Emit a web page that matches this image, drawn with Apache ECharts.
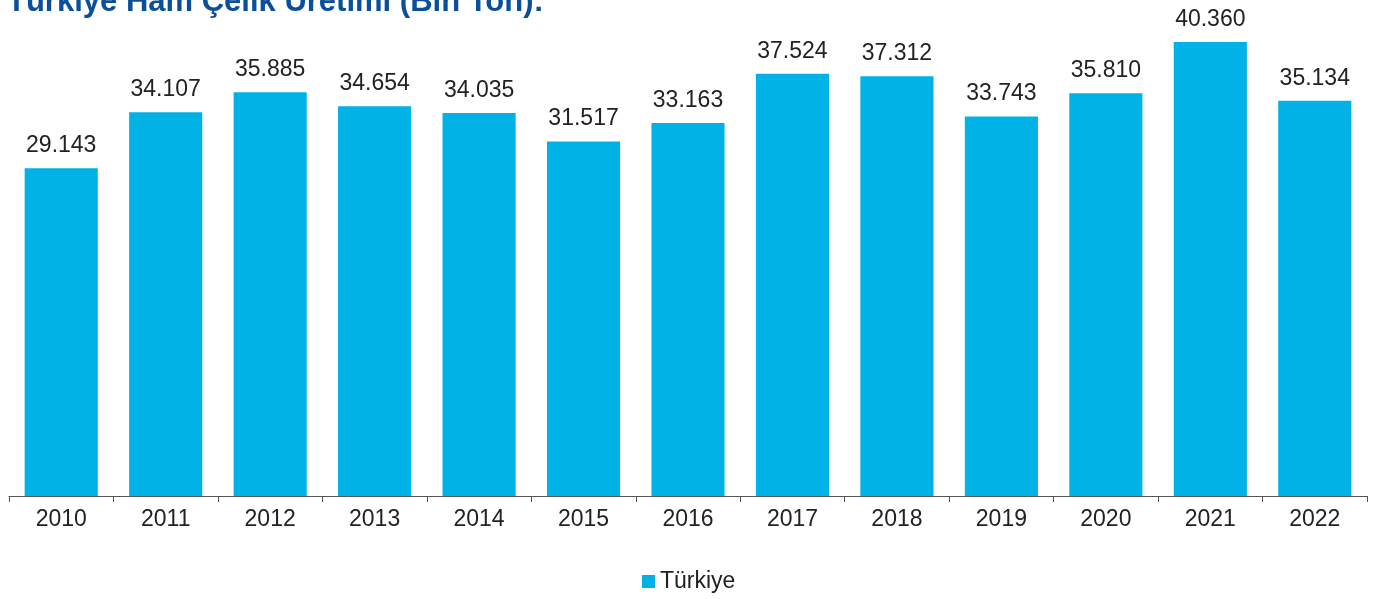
<!DOCTYPE html>
<html>
<head>
<meta charset="utf-8">
<script src="https://cdn.jsdelivr.net/npm/echarts@6/dist/echarts.min.js"></script>
<style>
  html, body { margin: 0; padding: 0; background: #fff; }
  #main { width: 1381px; height: 599px; }
</style>
</head>
<body>
<div id="main"></div>
<script>
// Türkiye ham çelik üretimi (bin ton)
var years = ["2010", "2011", "2012", "2013", "2014", "2015", "2016", "2017", "2018", "2019", "2020", "2021", "2022"];
var uretim = [29143, 34107, 35885, 34654, 34035, 31517, 33163, 37524, 37312, 33743, 35810, 40360, 35134];
var seriesName = "Türkiye";
var titleText = "Türkiye Ham Çelik Üretimi (Bin Ton):";

var fmt = function (v) {
    var s = String(v);
    return s.slice(0, s.length - 3) + "." + s.slice(-3);
};

var myChart = echarts.init(document.getElementById("main"));
var option = {
    animation: false,
    textStyle: { fontFamily: "Liberation Sans" },
    title: {
        text: titleText,
        left: 2,
        top: -18,
        textStyle: {
            color: "#0a4f9c",
            fontSize: 31,
            fontWeight: "bold",
            fontFamily: "Liberation Sans"
        }
    },
    legend: {
        bottom: 1,
        left: 637,
        icon: "rect",
        itemWidth: 13,
        itemHeight: 13,
        itemGap: 6,
        textStyle: { color: "#222", fontSize: 23 }
    },
    grid: {
        left: 9,
        right: 14,
        top: 23.5,
        bottom: 103,
        containLabel: false
    },
    xAxis: {
        type: "category",
        data: years,
        axisLine: { lineStyle: { color: "#555", width: 1 } },
        axisTick: { show: true, alignWithLabel: false, length: 6, lineStyle: { color: "#555" } },
        axisLabel: { color: "#222", fontSize: 23, margin: 12 }
    },
    yAxis: {
        type: "value",
        min: 0,
        max: 42000,
        show: false,
        splitLine: { show: false }
    },
    series: [
        {
            name: seriesName,
            type: "bar",
            data: uretim,
            barCategoryGap: "30%",
            itemStyle: { color: "#00b2e6" },
            label: {
                show: true,
                position: "top",
                distance: 11,
                color: "#222",
                fontSize: 23,
                formatter: function (p) { return fmt(p.value); }
            }
        }
    ]
};
myChart.setOption(option);
</script>
</body>
</html>
